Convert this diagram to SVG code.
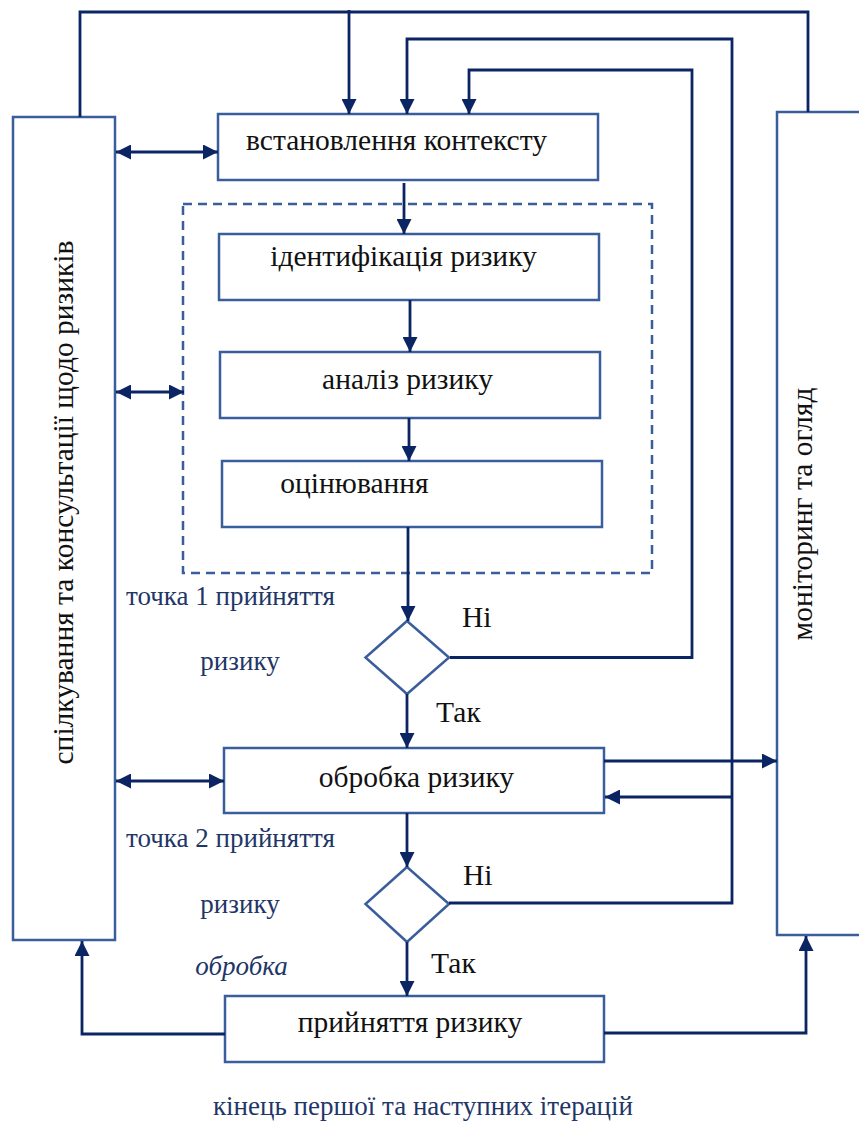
<svg xmlns="http://www.w3.org/2000/svg" width="859" height="1122" viewBox="0 0 859 1122">
<defs>
<style>
.box{fill:#fff;stroke:#3a5d9c;stroke-width:2.5}
.dash{fill:none;stroke:#3a5d9c;stroke-width:2.5;stroke-dasharray:9 6}
.ln{fill:none;stroke:#0b2463;stroke-width:2.8}
.m{text-anchor:middle}
</style>
<marker id="ah" viewBox="0 0 15 15" refX="15" refY="7.5" markerWidth="15" markerHeight="15" markerUnits="userSpaceOnUse" orient="auto-start-reverse">
<path d="M0,0 L15,7.5 L0,15 z" fill="#0b2463"/>
</marker>
</defs>
<rect width="859" height="1122" fill="#fff"/>

<g id="n-communication">
<rect class="box" x="13" y="117" width="102" height="823"/>
<text class="m" font-family="Liberation Serif, serif" font-size="29.5" fill="#111" transform="translate(73,502.5) rotate(-90)">спілкування та консультації щодо ризиків</text>
</g>
<g id="n-monitoring">
<rect class="box" x="777" y="112" width="100" height="823"/>
<text class="m" font-family="Liberation Serif, serif" font-size="29.5" fill="#111" transform="translate(812,514) rotate(-90)">моніторинг та огляд</text>
</g>
<g id="n-assessment-group">
<rect class="dash" x="183" y="204" width="469" height="369"/>
</g>
<g id="n-context">
<rect class="box" x="218" y="114" width="380" height="66"/>
<text class="m" font-family="Liberation Serif, serif" font-size="29.5" fill="#111" x="396.5" y="150">встановлення контексту</text>
</g>
<g id="n-identification">
<rect class="box" x="219" y="234" width="380" height="66"/>
<text class="m" font-family="Liberation Serif, serif" font-size="29.5" fill="#111" x="403.5" y="266">ідентифікація ризику</text>
</g>
<g id="n-analysis">
<rect class="box" x="220" y="352" width="380" height="66"/>
<text class="m" font-family="Liberation Serif, serif" font-size="29.5" fill="#111" x="407.5" y="389">аналіз ризику</text>
</g>
<g id="n-evaluation">
<rect class="box" x="222" y="461" width="380" height="66"/>
<text class="m" font-family="Liberation Serif, serif" font-size="29.5" fill="#111" x="354.5" y="493">оцінювання</text>
</g>
<g id="n-decision1">
<polygon class="box" points="407,621 449,657.5 407,694 365.5,657.5"/>
</g>
<g id="n-treatment">
<rect class="box" x="224" y="748" width="380" height="65"/>
<text class="m" font-family="Liberation Serif, serif" font-size="29.5" fill="#111" x="416.5" y="787">обробка ризику</text>
</g>
<g id="n-decision2">
<polygon class="box" points="407,867 449,904 407,942 365.5,904"/>
</g>
<g id="n-acceptance">
<rect class="box" x="225" y="996" width="379" height="66"/>
<text class="m" font-family="Liberation Serif, serif" font-size="29.5" fill="#111" x="410" y="1032">прийняття ризику</text>
</g>

<g id="connectors">
<path class="ln" d="M80,117 V12 H808 V112"/>
<path class="ln" d="M349,10 V114" marker-end="url(#ah)"/>
<path class="ln" d="M449,903 H732 V39 H407 V114" marker-end="url(#ah)"/>
<path class="ln" d="M732,797 H605" marker-end="url(#ah)"/>
<path class="ln" d="M450,657.5 H692 V70 H469 V114" marker-end="url(#ah)"/>
<path class="ln" d="M404,183 V234" marker-end="url(#ah)"/>
<path class="ln" d="M410,300 V352" marker-end="url(#ah)"/>
<path class="ln" d="M409,418 V461" marker-end="url(#ah)"/>
<path class="ln" d="M408,527 V621" marker-end="url(#ah)"/>
<path class="ln" d="M407,694 V748" marker-end="url(#ah)"/>
<path class="ln" d="M407,813 V867" marker-end="url(#ah)"/>
<path class="ln" d="M407,942 V996" marker-end="url(#ah)"/>
<path class="ln" d="M604,761 H777" marker-end="url(#ah)"/>
<path class="ln" d="M116,152 H218" marker-start="url(#ah)" marker-end="url(#ah)"/>
<path class="ln" d="M116,392 H184" marker-start="url(#ah)" marker-end="url(#ah)"/>
<path class="ln" d="M116,781 H224" marker-start="url(#ah)" marker-end="url(#ah)"/>
<path class="ln" d="M225,1034 H82 V941" marker-end="url(#ah)"/>
<path class="ln" d="M604,1033 H806 V936" marker-end="url(#ah)"/>
</g>

<g id="labels" font-family="Liberation Serif, serif">
<text font-size="29.5" fill="#111" x="462" y="627">Ні</text>
<text font-size="29.5" fill="#111" x="436" y="722">Так</text>
<text font-size="29.5" fill="#111" x="463" y="885">Ні</text>
<text font-size="29.5" fill="#111" x="431" y="973">Так</text>
<text font-size="27" fill="#1f3668" x="126" y="605">точка 1 прийняття</text>
<text class="m" font-size="27" fill="#1f3668" x="240" y="670">ризику</text>
<text font-size="27" fill="#1f3668" x="126" y="847">точка 2 прийняття</text>
<text class="m" font-size="27" fill="#1f3668" x="240" y="913">ризику</text>
<text class="m" font-size="27" fill="#1f3668" x="241.5" y="975" font-style="italic">обробка</text>
<text class="m" font-size="27" fill="#1f3668" x="423" y="1115">кінець першої та наступних ітерацій</text>
</g>
</svg>
